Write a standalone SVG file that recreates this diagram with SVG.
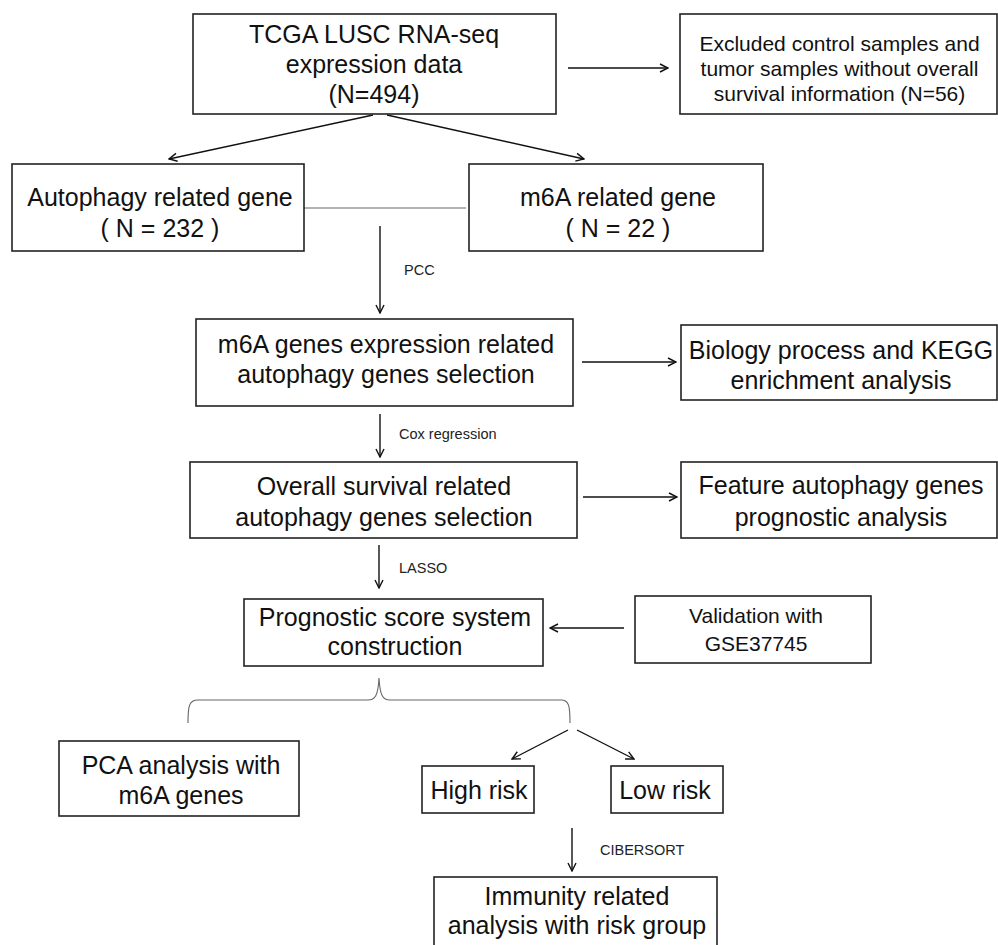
<svg xmlns="http://www.w3.org/2000/svg" width="998" height="945" viewBox="0 0 998 945">
<style>
.box{fill:#fff;stroke:#222;stroke-width:1.6}
.t{font-family:"Liberation Sans",Arial,sans-serif;font-size:25px;fill:#111;text-anchor:middle}
.s{font-family:"Liberation Sans",Arial,sans-serif;font-size:21px;fill:#111;text-anchor:middle}
.lbl{font-family:"Liberation Sans",Arial,sans-serif;font-size:14.5px;fill:#222}
.c{fill:none;stroke:#111;stroke-width:1.4}
.g{fill:none;stroke:#666;stroke-width:1.1}
</style>
<defs>
<marker id="ah" viewBox="0 0 10 10" refX="9" refY="5" markerWidth="10" markerHeight="10" markerUnits="userSpaceOnUse" orient="auto">
<path d="M1,1 L9,5 L1,9" fill="none" stroke="#111" stroke-width="1.4"/>
</marker>
</defs>
<rect width="998" height="945" fill="#fff"/>
<g id="connectors">
<line class="c" x1="568" y1="68" x2="668" y2="68" marker-end="url(#ah)"/>
<line class="c" x1="373" y1="115" x2="169" y2="159" marker-end="url(#ah)"/>
<line class="c" x1="387" y1="115" x2="584" y2="159" marker-end="url(#ah)"/>
<line class="g" x1="304" y1="208" x2="466" y2="208"/>
<line class="c" x1="380" y1="226" x2="380" y2="313" marker-end="url(#ah)"/>
<text class="lbl" x="404" y="275">PCC</text>
<line class="c" x1="582" y1="362" x2="676" y2="362" marker-end="url(#ah)"/>
<line class="c" x1="380" y1="414" x2="380" y2="457" marker-end="url(#ah)"/>
<text class="lbl" x="399" y="439">Cox regression</text>
<line class="c" x1="583" y1="497" x2="677" y2="497" marker-end="url(#ah)"/>
<line class="c" x1="379" y1="545" x2="379" y2="588" marker-end="url(#ah)"/>
<text class="lbl" x="399" y="573">LASSO</text>
<line class="c" x1="624" y1="628" x2="550" y2="628" marker-end="url(#ah)"/>
<path class="g" d="M188,723 C188,706 189,700 198,700 L368,700 C375,700 378,696 379,678 C380,696 383,700 390,700 L561,700 C569,700 570,706 570,723"/>
<line class="c" x1="568" y1="730" x2="512" y2="759" marker-end="url(#ah)"/>
<line class="c" x1="577" y1="730" x2="634" y2="759" marker-end="url(#ah)"/>
<line class="c" x1="572" y1="828" x2="572" y2="871" marker-end="url(#ah)"/>
<text class="lbl" x="600" y="855">CIBERSORT</text>
</g>
<g id="tcga">
<rect class="box" x="193" y="14" width="363" height="100"/>
<text class="t" x="374" y="43">TCGA LUSC RNA-seq</text>
<text class="t" x="374" y="73">expression data</text>
<text class="t" x="374" y="103">(N=494)</text>
</g>
<g id="excluded">
<rect class="box" x="680" y="14" width="317" height="100"/>
<text class="s" x="839.5" y="51">Excluded control samples and</text>
<text class="s" x="839.5" y="76">tumor samples without overall</text>
<text class="s" x="839.5" y="101">survival information (N=56)</text>
</g>
<g id="autophagy">
<rect class="box" x="12" y="164" width="292" height="87"/>
<text class="t" x="160" y="206">Autophagy related gene</text>
<text class="t" x="160" y="237">( N = 232 )</text>
</g>
<g id="m6a">
<rect class="box" x="469" y="164" width="294" height="87"/>
<text class="t" x="618" y="206">m6A related gene</text>
<text class="t" x="618" y="237">( N = 22 )</text>
</g>
<g id="m6a-selection">
<rect class="box" x="196" y="319" width="377" height="87"/>
<text class="t" x="386" y="353">m6A genes expression related</text>
<text class="t" x="386" y="383">autophagy genes selection</text>
</g>
<g id="biology">
<rect class="box" x="681" y="325" width="316" height="75"/>
<text class="t" x="841" y="359">Biology process and KEGG</text>
<text class="t" x="841" y="389">enrichment analysis</text>
</g>
<g id="overall">
<rect class="box" x="190" y="462" width="387" height="76"/>
<text class="t" x="384" y="495">Overall survival related</text>
<text class="t" x="384" y="526">autophagy genes selection</text>
</g>
<g id="feature">
<rect class="box" x="681" y="462" width="316" height="76"/>
<text class="t" x="841" y="494">Feature autophagy genes</text>
<text class="t" x="841" y="526">prognostic analysis</text>
</g>
<g id="prognostic">
<rect class="box" x="244" y="599" width="299" height="67"/>
<text class="t" x="395" y="626">Prognostic score system</text>
<text class="t" x="395" y="655">construction</text>
</g>
<g id="validation">
<rect class="box" x="635" y="596" width="236" height="67"/>
<text class="s" x="756" y="623">Validation with</text>
<text class="s" x="756" y="651">GSE37745</text>
</g>
<g id="pca">
<rect class="box" x="59" y="741" width="240" height="75"/>
<text class="t" x="181" y="774">PCA analysis with</text>
<text class="t" x="181" y="804">m6A genes</text>
</g>
<g id="high-risk">
<rect class="box" x="422" y="766" width="112" height="47"/>
<text class="t" x="479" y="799">High risk</text>
</g>
<g id="low-risk">
<rect class="box" x="611" y="766" width="112" height="47"/>
<text class="t" x="665" y="799">Low risk</text>
</g>
<g id="immunity">
<rect class="box" x="434" y="877" width="283" height="80"/>
<text class="t" x="577" y="905">Immunity related</text>
<text class="t" x="577" y="934">analysis with risk group</text>
</g>
</svg>
